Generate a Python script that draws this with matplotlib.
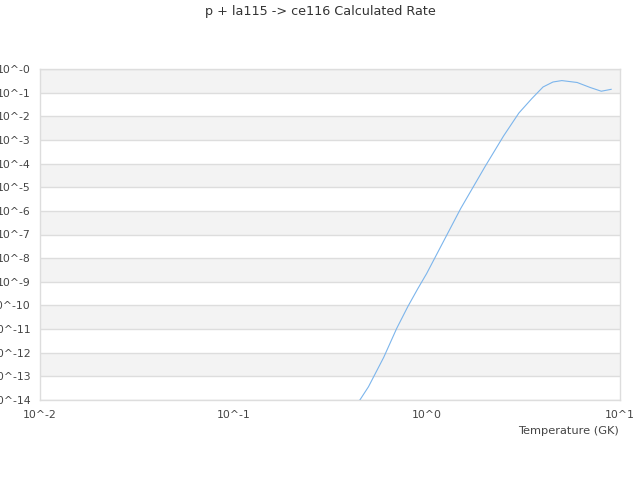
import matplotlib
matplotlib.use("Agg")
import matplotlib.pyplot as plt
import numpy as np

title = "p + la115 -> ce116 Calculated Rate"
xlabel = "Temperature (GK)"
temperature = [0.4, 0.5, 0.6, 0.7, 0.8, 0.9, 1.0, 1.5, 2.0, 2.5, 3.0, 3.5,
               4.0, 4.5, 5.0, 6.0, 7.0, 8.0, 9.0]
log_rate = [-14.66, -13.44, -12.19, -10.97, -10.04, -9.29, -8.65, -5.90,
            -4.14, -2.83, -1.86, -1.25, -0.76, -0.55, -0.49, -0.57, -0.78,
            -0.94, -0.86]
rate = [10 ** v for v in log_rate]
x_ticks = [0.01, 0.1, 1.0, 10.0]
x_tick_labels = ["10^-2", "10^-1", "10^0", "10^1"]
y_exps = list(range(0, -15, -1))
y_tick_labels = ["10^-%d" % (-e) for e in y_exps]

fig = plt.figure(figsize=(6.4, 4.8), dpi=100)
ax = fig.add_axes([40 / 640, 1 - 400 / 480, 580 / 640, 331 / 480])
ax.set_xscale("log")
ax.set_yscale("log")
ax.set_xlim(0.01, 10)
ax.set_ylim(1e-14, 1)

for k in range(0, 14, 2):
    ax.axhspan(10.0 ** (-(k + 1)), 10.0 ** (-k), color="#f3f3f3", lw=0, zorder=0)
for e in y_exps:
    ax.axhline(10.0 ** e, color="#dddddd", lw=1.0, zorder=1)

ax.plot(temperature, rate, color="#7cb5ec", lw=0.8, zorder=3)

ax.set_xticks(x_ticks)
ax.set_xticklabels(x_tick_labels)
ax.set_yticks([10.0 ** e for e in y_exps])
ax.set_yticklabels(y_tick_labels)
ax.minorticks_off()
ax.tick_params(length=0, labelsize=7.8, labelcolor="#444444")
ax.tick_params(axis="y", pad=6.5)
ax.tick_params(axis="x", pad=7)
for s in ax.spines.values():
    s.set_color("#dddddd")
    s.set_linewidth(1.0)

fig.text(0.5, 1 - 12 / 480, title, ha="center", va="center", fontsize=9.2, color="#333333")
fig.text(619 / 640, 1 - 431 / 480, xlabel, ha="right", va="center", fontsize=8.2, color="#444444")

fig.savefig("out.png", dpi=100)
